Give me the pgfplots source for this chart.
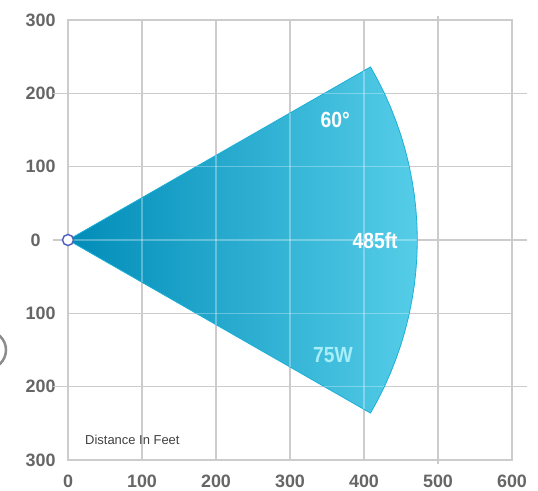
\documentclass[border=0pt]{standalone}
\usepackage{pgfplots}
\pgfplotsset{compat=1.18}
\usepackage{fontspec}
\setmainfont{Liberation Sans}
\newfontfamily\narrow[FakeStretch=0.88]{Liberation Sans}
\definecolor{gridc}{HTML}{CCCCCC}
\definecolor{labc}{HTML}{666666}
\definecolor{cdark}{HTML}{008CB8}
\definecolor{cmid}{HTML}{0CAAD4}
\definecolor{clight}{HTML}{55CDE8}
\definecolor{cedge}{HTML}{1AB0D8}
\definecolor{mk}{HTML}{5563C1}
\definecolor{wlab}{HTML}{A8EEF8}
\begin{document}
\begin{tikzpicture}
\begin{axis}[
  scale only axis, width=444bp, height=440bp,
  xmin=0, xmax=600, ymin=-300, ymax=300,
  xtick={0,100,...,600}, ytick={-300,-200,...,300},
  yticklabels={300,200,100,{},100,200,300},
  grid=major, grid style={gridc, line width=1.1bp},
  axis line style={gridc, line width=1.1bp},
  major tick length=0,
  tick label style={font=\fontsize{18}{20}\selectfont\bfseries, text=labc},
  /pgf/number format/assume math mode=true,
  xticklabel style={yshift=-11bp},
  yticklabel style={xshift=-9bp},
  extra y ticks={-200,0,200}, extra y tick labels={{},0,{}},
  extra y tick style={grid=none, tick align=outside, major tick length=15bp, tick style={gridc, line width=1.1bp}},
  extra x ticks={500}, extra x tick labels={},
  extra x tick style={grid=none, tick align=outside, major tick length=4bp, tick style={gridc, line width=1.1bp}},
  clip=false,
]
\addplot[draw=cedge, line width=0.8bp, left color=cdark, middle color=cmid, right color=clight]
  coordinates {(0,0) (408.8,236.0) (418.7,217.9) (427.8,199.5) (436.1,180.6) (443.5,161.4)
  (450.2,141.9) (455.9,122.2) (460.8,102.2) (464.8,82.0) (468.0,61.6) (470.2,41.1) (471.6,20.6)
  (472,0) (471.6,-20.6) (470.2,-41.1) (468.0,-61.6) (464.8,-82.0) (460.8,-102.2) (455.9,-122.2)
  (450.2,-141.9) (443.5,-161.4) (436.1,-180.6) (427.8,-199.5) (418.7,-217.9) (408.8,-236.0)} -- cycle;
\begin{scope}[white, opacity=0.3, line width=1.1bp]
\draw (axis cs:100,-57.7) -- (axis cs:100,57.7);
\draw (axis cs:200,-115.5) -- (axis cs:200,115.5);
\draw (axis cs:300,-173.2) -- (axis cs:300,173.2);
\draw (axis cs:400,-230.9) -- (axis cs:400,230.9);
\draw (axis cs:0,0) -- (axis cs:472,0);
\draw (axis cs:173.2,100) -- (axis cs:461.3,100);
\draw (axis cs:173.2,-100) -- (axis cs:461.3,-100);
\draw (axis cs:346.4,200) -- (axis cs:427.5,200);
\draw (axis cs:346.4,-200) -- (axis cs:427.5,-200);
\end{scope}
\addplot[only marks, mark=*, mark size=5.5bp, mark options={fill=white, draw=mk, line width=1.5bp}]
  coordinates {(0,0)};
\node[text=white, font=\narrow\bfseries\fontsize{22}{24}\selectfont] at (axis cs:361,164) {60°};
\node[text=white, font=\narrow\bfseries\fontsize{22}{24}\selectfont] at (axis cs:415,-1) {485ft};
\node[text=wlab, font=\narrow\bfseries\fontsize{22}{24}\selectfont] at (axis cs:358,-157) {75W};
\node[anchor=west, text=black!75, font=\fontsize{13}{15}\selectfont, inner sep=0pt] at (axis cs:23,-272) {Distance In Feet};
\coordinate (bl) at (rel axis cs:0,0);
\coordinate (tr) at (rel axis cs:1,1);
\end{axis}
\draw[color=black!45, line width=2.5bp] ([shift={(-81bp,110bp)}]bl) circle (19bp);
\pgfresetboundingbox
\path ([shift={(-68bp,-31bp)}]bl) rectangle ([shift={(26bp,20bp)}]tr);
\end{tikzpicture}
\end{document}
